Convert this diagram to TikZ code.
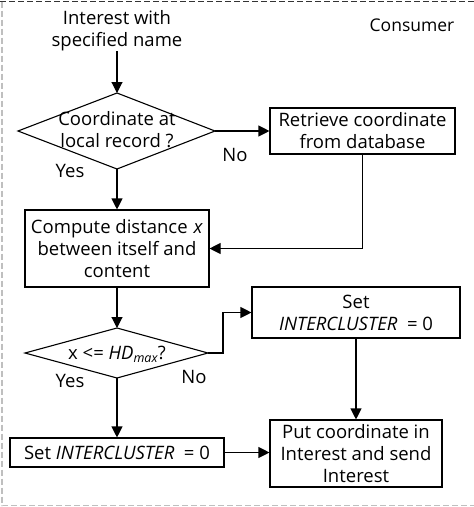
\documentclass[tikz,border=0pt]{standalone}
\usepackage{fontspec}
\setmainfont{Open Sans}
\usetikzlibrary{arrows.meta,shapes.geometric}
\begin{document}
\begin{tikzpicture}[x=1pt,y=-1pt,
  every node/.style={font=\fontsize{18.5}{22}\selectfont, inner sep=0pt},
  box/.style={draw, line width=1.1pt, align=center},
  lbl/.style={align=center},
  conn/.style={line width=1.1pt, -{Triangle[length=11pt,width=11pt]}},
  plain/.style={line width=1.1pt}]
\useasboundingbox (0,0) rectangle (474,507);
% border
\draw[line width=1.6pt, dash pattern=on 6pt off 3pt, black!80] (0,1.5) -- (474,1.5);
\draw[line width=1.6pt, dash pattern=on 6pt off 3pt, black!25] (2,1.5) -- (2,505.5) -- (474,505.5);
\node[anchor=center, font=\fontsize{17.5}{21}\selectfont] (cons) at (412,25) {Consumer};
% nodes
\node[lbl] (start) at (117,31) {Interest with\\specified name};
\draw[plain] (18,131) -- (117,93) -- (215,131) -- (117,169) -- cycle;
\coordinate (d1t) at (117,93);
\coordinate (d1r) at (215,131);
\coordinate (d1b) at (117,169);
\node[lbl] (d1txt) at (117,130) {Coordinate at\\local record ?};
\node[box, minimum width=185pt, minimum height=46pt] (ret) at (362.5,131) {Retrieve coordinate\\from database};
\node[box, minimum width=184pt, minimum height=77pt] (comp) at (117,248.5) {Compute distance\hspace{6pt}\textit{x}\\between itself and\\content};
\draw[plain] (25,353) -- (117,328) -- (208,353) -- (117,378) -- cycle;
\coordinate (d2t) at (117,328);
\coordinate (d2r) at (208,353);
\coordinate (d2b) at (117,378);
\node[lbl] (d2txt) at (117,354) {x <= \textit{HD}\raisebox{-0.3ex}{\fontsize{12.5}{12.5}\selectfont\textit{max}}?};
\node[box, minimum width=208pt, minimum height=51pt] (set1) at (356,312.5) {Set\\\textit{INTERCLUSTER} \ = 0};
\node[box, minimum width=214pt, minimum height=29pt] (set2) at (117,452.5) {Set \textit{INTERCLUSTER} \ = 0};
\node[box, minimum width=172pt, minimum height=67pt] (put) at (356,453.5) {Put coordinate in\\Interest and send\\Interest};
% labels
\node (yes1) at (70,171) {Yes};
\node (no1) at (235,155) {No};
\node (yes2) at (70,381) {Yes};
\node (no2) at (194,377) {No};
% connectors
\draw[conn] (start.south) -- (d1t);
\draw[conn] (d1r) -- (ret.west);
\draw[conn] (ret.south) |- (comp.east);
\draw[conn] (d1b) -- (comp.north);
\draw[conn] (comp.south) -- (d2t);
\coordinate (k) at (223,353);
\draw[conn] (d2r) -- (k) |- (set1.west);
\draw[conn] (set1.south) -- (put.north);
\draw[conn] (d2b) -- (set2.north);
\draw[conn] (set2.east) -- (put.west |- set2.east);
\end{tikzpicture}
\end{document}
